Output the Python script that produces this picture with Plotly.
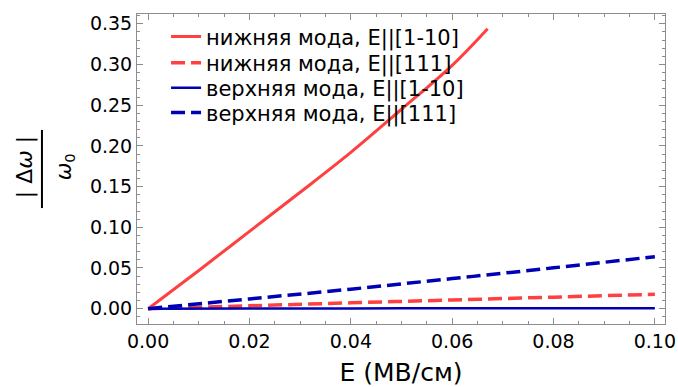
import plotly.graph_objects as go

# Data
E_low_1m10 = [0.0, 0.01, 0.02, 0.03, 0.04, 0.05, 0.06, 0.067]
d_low_1m10 = [0.0, 0.047, 0.095, 0.143, 0.192, 0.245, 0.299, 0.344]

E_grid = [0.0, 0.02, 0.04, 0.06, 0.08, 0.10]
d_low_111 = [0.0, 0.0036, 0.0072, 0.0107, 0.0142, 0.0177]
d_up_1m10 = [0.0, 0.0002, 0.0003, 0.0005, 0.0006, 0.0007]
d_up_111 = [0.0, 0.0120, 0.0240, 0.0370, 0.0502, 0.0639]

names = ["нижняя мода, E||[1-10]", "нижняя мода, E||[111]",
         "верхняя мода, E||[1-10]", "верхняя мода, E||[111]"]

RED = "#FF4040"
BLUE = "#0000B4"
FONT = "DejaVu Sans"

fig = go.Figure()
fig.add_trace(go.Scatter(x=E_low_1m10, y=d_low_1m10, mode="lines", name=names[0],
                         legend="legend",
                         line=dict(color=RED, width=3, shape="spline")))
fig.add_trace(go.Scatter(x=E_grid, y=d_low_111, mode="lines", name=names[1],
                         legend="legend2",
                         line=dict(color=RED, width=3.5, dash="14px,6px", shape="spline")))
fig.add_trace(go.Scatter(x=E_grid, y=d_up_1m10, mode="lines", name=names[2],
                         legend="legend3",
                         line=dict(color=BLUE, width=2.5, shape="spline")))
fig.add_trace(go.Scatter(x=E_grid, y=d_up_111, mode="lines", name=names[3],
                         legend="legend4",
                         line=dict(color=BLUE, width=3.5, dash="14px,6px", shape="spline")))

axis_common = dict(
    showline=True, mirror="ticks", linecolor="#8c8c8c", linewidth=1,
    ticks="inside", ticklen=6, tickcolor="#8c8c8c", tickwidth=1,
    showgrid=False, zeroline=False, automargin=False,
    tickfont=dict(family=FONT, size=19, color="black"),
    tickformat=".2f",
)

fig.update_xaxes(range=[-0.0022, 0.1020], dtick=0.02, tick0=0,
                 minor=dict(dtick=0.005, ticks="inside", ticklen=3, tickcolor="#8c8c8c"),
                 title=dict(text="E (МВ/см)", font=dict(family=FONT, size=25, color="black"),
                            standoff=14),
                 **axis_common)
fig.update_yaxes(range=[-0.0188, 0.362], dtick=0.05, tick0=0,
                 minor=dict(dtick=0.01, ticks="inside", ticklen=3, tickcolor="#8c8c8c"),
                 **axis_common)

# y-axis title as a fraction |Δω| / ω0
fig.add_annotation(xref="paper", yref="paper", x=-0.212, y=0.506, text="| Δ<i>ω</i> |",
                   textangle=-90, showarrow=False, xanchor="center", yanchor="middle",
                   font=dict(family=FONT, size=22, color="black"))
fig.add_shape(type="line", xref="paper", yref="paper",
              x0=-0.180, x1=-0.180, y0=0.374, y1=0.626,
              line=dict(color="black", width=2))
fig.add_annotation(xref="paper", yref="paper", x=-0.136, y=0.506, text="<i>ω</i><sub>0</sub>",
                   textangle=-90, showarrow=False, xanchor="center", yanchor="middle",
                   font=dict(family=FONT, size=21, color="black"))

leg_common = dict(x=0.055, xanchor="left", yanchor="middle",
                  bgcolor="rgba(255,255,255,0)", borderwidth=0,
                  font=dict(family=FONT, size=21, color="black"),
                  itemwidth=30)

fig.update_layout(
    width=678, height=387,
    margin=dict(l=137, r=13, t=14, b=63),
    paper_bgcolor="white", plot_bgcolor="white",
    showlegend=True,
    legend=dict(y=0.926, **leg_common),
    legend2=dict(y=0.842, **leg_common),
    legend3=dict(y=0.761, **leg_common),
    legend4=dict(y=0.681, **leg_common),
    font=dict(family=FONT),
)

fig.write_html("out.html")
